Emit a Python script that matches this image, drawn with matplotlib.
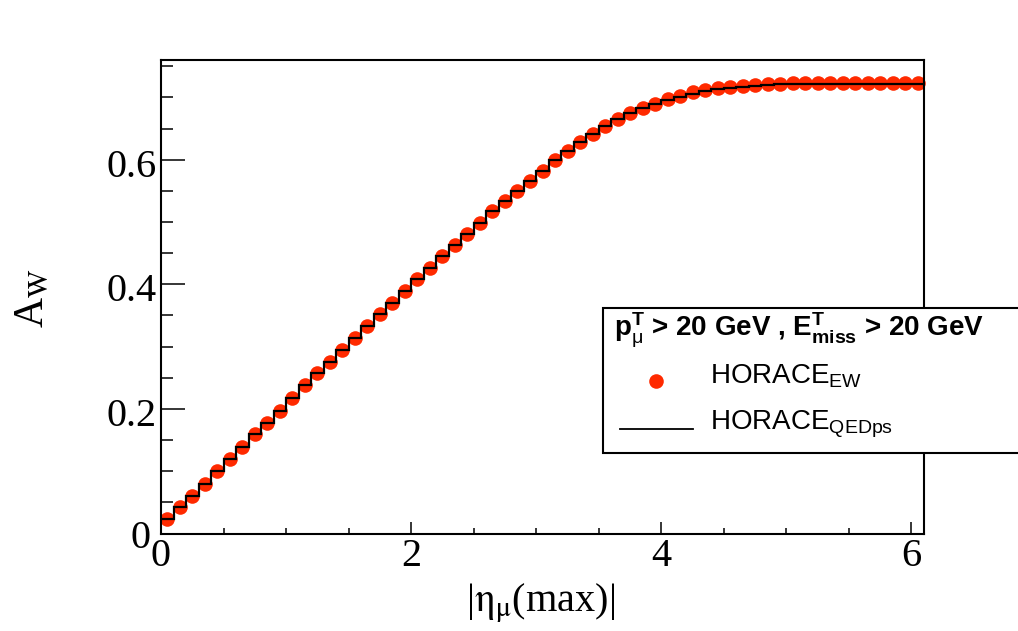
import matplotlib
matplotlib.use("Agg")
import matplotlib.pyplot as plt
from matplotlib.lines import Line2D
from matplotlib.patches import Rectangle
from matplotlib.transforms import ScaledTranslation
import numpy as np

# ---------------- data ----------------
bin_width = 0.1
n_bins = 61
eta_edges = np.round(np.arange(n_bins + 1) * bin_width, 2)
eta_centers = eta_edges[:-1] + bin_width / 2

aw_horace_ew = [
    0.023, 0.042, 0.060, 0.080, 0.100, 0.119, 0.139, 0.159, 0.178, 0.197,
    0.218, 0.238, 0.257, 0.276, 0.295, 0.314, 0.333, 0.352, 0.370, 0.389,
    0.408, 0.426, 0.445, 0.463, 0.481, 0.499, 0.517, 0.534, 0.550, 0.566,
    0.582, 0.599, 0.614, 0.629, 0.642, 0.654, 0.665, 0.675, 0.683, 0.690,
    0.697, 0.703, 0.708, 0.712, 0.715, 0.717, 0.719, 0.720, 0.721, 0.722,
    0.723, 0.723, 0.723, 0.723, 0.723, 0.723, 0.723, 0.723, 0.723, 0.723,
    0.723,
]
aw_horace_qedps = [
    0.023, 0.042, 0.060, 0.080, 0.100, 0.119, 0.139, 0.159, 0.178, 0.197,
    0.218, 0.238, 0.257, 0.276, 0.295, 0.314, 0.333, 0.352, 0.370, 0.389,
    0.408, 0.426, 0.445, 0.463, 0.481, 0.499, 0.517, 0.534, 0.550, 0.566,
    0.582, 0.599, 0.614, 0.629, 0.642, 0.654, 0.665, 0.675, 0.683, 0.690,
    0.696, 0.701, 0.706, 0.710, 0.713, 0.715, 0.717, 0.719, 0.720, 0.721,
    0.722, 0.722, 0.722, 0.722, 0.722, 0.722, 0.722, 0.722, 0.722, 0.722,
    0.722,
]
x_major = [0, 2, 4, 6]
x_minor = [0.5, 1.0, 1.5, 2.5, 3.0, 3.5, 4.5, 5.0, 5.5]
y_major = [0, 0.2, 0.4, 0.6]
y_major_labels = ["0", "0.2", "0.4", "0.6"]
y_minor = [0.05, 0.1, 0.15, 0.25, 0.3, 0.35, 0.45, 0.5, 0.55, 0.65, 0.7, 0.75]

# ---------------- style ----------------
plt.rcParams["mathtext.fontset"] = "custom"
plt.rcParams["mathtext.rm"] = "Liberation Sans"
plt.rcParams["mathtext.it"] = "Liberation Sans:italic"
plt.rcParams["mathtext.bf"] = "Liberation Sans:bold"

RED = "#FF2A00"
W, H = 1018, 631

fig = plt.figure(figsize=(W / 100, H / 100), dpi=100)
ax = fig.add_axes([161 / W, 1 - 533.5 / H, 763 / W, 473.5 / H])

ax.plot(eta_centers, aw_horace_ew, "o", color=RED, markersize=10.5,
        markeredgewidth=0, zorder=2, clip_on=False)
ax.stairs(aw_horace_qedps, eta_edges, baseline=None, color="black",
          linewidth=1.6, zorder=3)

ax.set_xlim(0, 6.1)
ax.set_ylim(0, 0.76)

ax.set_xticks(x_major)
ax.set_xticklabels([str(v) for v in x_major])
ax.set_xticks(x_minor, minor=True)
ax.set_yticks(y_major)
ax.set_yticklabels(y_major_labels)
ax.set_yticks(y_minor, minor=True)

ax.tick_params(axis="x", which="major", direction="in", length=9, width=1.1,
               top=False, pad=3)
ax.tick_params(axis="x", which="minor", direction="in", length=4.5, width=1.1,
               top=False)
ax.tick_params(axis="y", which="major", direction="in", length=17, width=1.1,
               right=False, pad=3)
ax.tick_params(axis="y", which="minor", direction="in", length=8.5, width=1.1,
               right=False)

for lab in ax.get_xticklabels() + ax.get_yticklabels():
    lab.set_fontfamily("Liberation Serif")
    lab.set_fontsize(29)
ylabs = ax.get_yticklabels()
for lab in ylabs[1:]:
    lab.set_transform(lab.get_transform() + ScaledTranslation(0, -3 / 100, fig.dpi_scale_trans))
ylabs[0].set_transform(ylabs[0].get_transform() + ScaledTranslation(-6 / 100, 0, fig.dpi_scale_trans))

for sp in ax.spines.values():
    sp.set_linewidth(1.5)

# axis titles
fig.text(541 / W, 1 - 612 / H, r"|$\mathrm{η}_{\mathrm{μ}}$(max)|", ha="center",
         va="baseline", fontsize=29, family="Liberation Serif",
         math_fontfamily="stix")
fig.text(33 / W, 1 - 298 / H, r"A$_{\mathrm{W}}$", ha="center", va="center",
         rotation=90, fontsize=30, family="Liberation Serif",
         math_fontfamily="stix")

# legend box (drawn manually to match the original placement)
box = Rectangle((603 / W, 1 - 453 / H), 0.5, (453 - 308) / H,
                transform=fig.transFigure, facecolor="white",
                edgecolor="black", linewidth=1.5, zorder=5)
fig.patches.append(box)

fig.text(614 / W, 1 - 337 / H,
         r"$\mathbf{p}_{\mathrm{μ}}^{\mathbf{T}}$ > 20 GeV , "
         r"$\mathbf{E}_{\mathbf{miss}}^{\mathbf{T}}$ > 20 GeV",
         fontsize=20, fontweight="bold", family="Liberation Sans",
         va="baseline", ha="left", zorder=6)

fig.lines.append(Line2D([656 / W], [1 - 381 / H], marker="o", color=RED,
                        markersize=10.5, markeredgewidth=0,
                        transform=fig.transFigure, zorder=6))
fig.text(710 / W, 1 - 383 / H, r"HORACE$_{\mathrm{EW}}$", fontsize=20,
         family="Liberation Sans", va="baseline", ha="left", zorder=6)

fig.lines.append(Line2D([620 / W, 693 / W], [1 - 429 / H, 1 - 429 / H],
                        color="black", linewidth=1.3,
                        transform=fig.transFigure, zorder=6))
fig.text(710 / W, 1 - 430 / H, r"HORACE$_{\mathrm{QEDps}}$", fontsize=20,
         family="Liberation Sans", va="baseline", ha="left", zorder=6)

fig.savefig("out.png", dpi=100)
